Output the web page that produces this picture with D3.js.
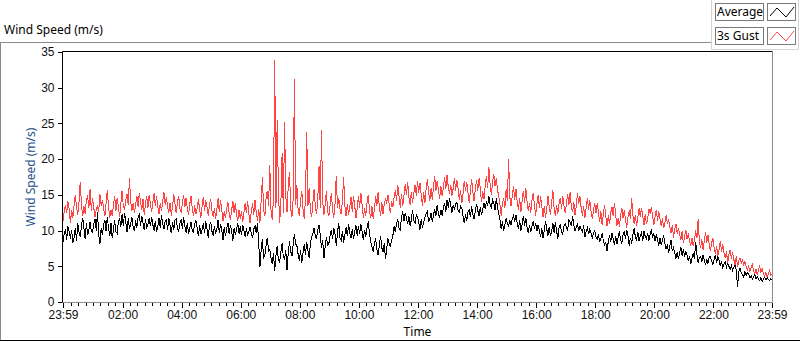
<!DOCTYPE html>
<html>
<head>
<meta charset="utf-8">
<script src="https://cdn.jsdelivr.net/npm/d3@7"></script>
<style>
  body { margin: 0; background: #fff; }
  svg { display: block; font-family: "Noto Sans", "Open Sans", sans-serif; }
</style>
</head>
<body>
<div id="chart"></div>
<script>
// series names and colours
var seriesNames = ["Average", "3s Gust"];
var seriesColors = ["#000000", "#ff4444"];

// one sample every 150 s, starting 23:59 the day before
var startTime = "2020-01-01 23:59";
var stepSeconds = 150;

// Average wind speed (m/s) (one row per hour)
var average = [
  8.4, 9.6, 10.2, 8.7, 10.6, 9.9, 8.9, 10.1, 8.3, 9.0, 10.4, 8.6, 11.0, 9.8, 9.1, 10.7, 11.8, 10.3, 8.8, 11.1, 9.4, 10.0, 11.2, 9.9,
  9.7, 10.9, 11.6, 10.0, 12.6, 9.5, 8.1, 10.4, 9.4, 10.8, 11.5, 9.9, 11.9, 10.3, 9.2, 11.0, 8.9, 10.2, 11.4, 9.8, 9.6, 11.2, 11.7, 10.5,
  12.3, 10.6, 12.5, 11.2, 9.8, 11.7, 10.2, 11.0, 11.9, 10.5, 9.9, 11.4, 10.4, 11.8, 12.2, 10.7, 12.0, 11.1, 10.1, 11.6, 10.3, 10.9, 11.8, 10.6,
  11.9, 10.8, 10.0, 11.3, 9.8, 10.6, 11.7, 10.4, 12.1, 11.0, 10.2, 11.4, 11.5, 10.1, 11.8, 10.7, 9.6, 11.2, 10.1, 11.5, 11.6, 10.3, 9.9, 11.0,
  11.6, 10.2, 11.9, 10.6, 9.7, 11.1, 9.5, 10.4, 11.2, 10.0, 9.8, 11.0, 11.4, 10.3, 9.2, 10.8, 9.5, 10.1, 11.0, 9.6, 11.3, 10.2, 9.0, 10.7,
  11.2, 9.9, 9.3, 10.6, 9.6, 10.2, 11.5, 9.7, 10.9, 10.0, 8.7, 10.5, 9.2, 10.3, 11.1, 9.5, 10.8, 9.9, 8.6, 10.4, 9.4, 10.1, 11.0, 9.6,
  10.6, 9.4, 10.8, 10.0, 9.1, 10.3, 9.3, 9.9, 10.5, 9.5, 9.0, 10.2, 10.7, 9.6, 11.1, 8.2, 4.9, 7.4, 8.8, 6.1, 6.6, 8.0, 9.0, 7.1,
  7.4, 6.2, 5.3, 6.8, 4.4, 6.5, 7.8, 5.9, 5.6, 7.0, 8.2, 6.3, 6.0, 7.2, 4.5, 6.9, 8.5, 7.1, 6.4, 8.0, 9.5, 8.1, 7.9, 6.7,
  5.8, 7.3, 5.5, 6.9, 8.1, 6.6, 8.4, 7.2, 6.2, 8.3, 9.0, 9.6, 10.4, 9.2, 8.9, 10.1, 10.8, 9.4, 7.5, 8.6, 6.1, 7.8, 9.1, 8.0,
  8.2, 9.3, 10.1, 8.8, 10.4, 9.5, 7.9, 9.7, 11.1, 9.0, 8.6, 10.0, 8.3, 9.4, 10.5, 9.2, 10.9, 9.6, 8.9, 10.2, 8.8, 9.8, 10.7, 9.3,
  10.6, 9.5, 10.9, 9.8, 8.7, 10.1, 9.1, 10.4, 11.3, 9.6, 8.4, 7.7, 7.0, 8.2, 8.9, 7.3, 6.6, 8.0, 9.2, 7.6, 7.0, 8.3, 6.0, 7.5,
  8.9, 8.1, 7.8, 8.7, 9.3, 10.6, 9.8, 11.0, 11.6, 10.4, 10.0, 11.9, 12.7, 11.3, 12.5, 11.8, 10.9, 12.0, 10.6, 11.5, 12.9, 11.4, 11.0, 12.2,
  12.0, 11.1, 10.1, 11.6, 10.4, 11.2, 11.8, 12.4, 12.7, 11.3, 11.6, 12.5, 11.2, 12.2, 13.0, 12.1, 13.6, 12.4, 11.8, 12.9, 12.1, 13.2, 13.8, 12.6,
  14.3, 13.2, 14.6, 13.5, 12.5, 13.6, 12.9, 13.8, 13.9, 12.8, 12.6, 13.4, 13.2, 12.0, 11.0, 12.3, 11.3, 12.6, 12.9, 11.9, 13.4, 12.2, 11.6, 12.7,
  13.7, 12.8, 12.0, 13.3, 12.2, 13.0, 13.9, 13.1, 14.1, 13.4, 14.8, 13.6, 13.2, 14.3, 13.9, 12.9, 14.5, 13.3, 12.4, 11.5, 10.2, 11.3, 9.9, 10.9,
  11.7, 11.0, 10.6, 11.5, 10.8, 11.6, 12.1, 11.2, 12.2, 11.0, 10.3, 11.4, 10.0, 10.9, 12.0, 10.7, 11.8, 10.5, 9.7, 10.8, 9.8, 10.6, 11.3, 10.2,
  11.1, 9.9, 10.8, 10.0, 9.1, 10.3, 8.9, 10.1, 11.3, 10.2, 9.3, 10.5, 9.2, 9.9, 11.0, 9.7, 11.2, 10.0, 8.8, 10.4, 10.9, 9.8, 9.5, 10.6,
  11.0, 10.4, 10.1, 11.5, 11.2, 10.6, 12.1, 10.8, 9.9, 10.5, 11.0, 9.9, 10.6, 10.1, 9.8, 10.7, 9.1, 9.9, 10.4, 9.5, 10.2, 9.6, 8.9, 9.7,
  10.0, 9.1, 8.8, 9.5, 8.4, 8.9, 9.6, 8.6, 8.0, 8.3, 7.1, 8.5, 9.3, 8.4, 9.6, 8.9, 8.0, 9.2, 8.1, 9.0, 9.9, 8.7, 8.2, 9.4,
  9.9, 8.9, 10.1, 9.2, 7.9, 9.0, 8.2, 9.4, 10.3, 9.1, 8.7, 9.8, 8.5, 9.3, 9.7, 8.6, 9.9, 9.2, 8.9, 9.6, 8.6, 9.5, 10.2, 9.0,
  9.6, 8.5, 9.5, 8.7, 7.9, 9.0, 8.0, 8.6, 9.3, 8.2, 7.4, 8.1, 6.9, 7.8, 8.7, 7.1, 7.6, 6.8, 6.1, 7.0, 6.0, 6.9, 7.7, 6.4,
  7.4, 6.3, 7.1, 6.5, 5.7, 6.4, 5.3, 6.1, 6.9, 6.0, 8.4, 6.7, 5.5, 6.2, 6.4, 5.6, 6.6, 5.9, 5.2, 6.0, 5.4, 6.3, 6.4, 5.7,
  5.2, 6.0, 6.6, 5.5, 6.4, 5.8, 5.0, 5.7, 4.8, 5.3, 5.6, 4.9, 5.5, 5.0, 4.6, 5.1, 4.4, 4.9, 5.2, 4.5, 2.1, 4.2, 4.8, 4.1,
  3.8, 3.5, 4.3, 3.7, 4.1, 3.9, 3.4, 3.7, 3.2, 3.5, 3.8, 3.3, 3.6, 3.2, 3.0, 3.4, 2.9, 3.2, 3.5, 3.1, 3.4, 3.2, 3.0, 3.3,
  3.1
];

// 3 second gust (m/s) (one row per hour)
var gust = [
  11.3, 12.7, 13.6, 12.4, 14.1, 13.0, 11.0, 12.9, 11.8, 13.5, 15.0, 13.2, 12.2, 14.0, 16.8, 13.7, 12.0, 13.4, 12.3, 14.3, 14.9, 13.1, 15.8, 12.8,
  14.6, 13.2, 11.9, 13.0, 13.4, 12.6, 15.1, 13.5, 14.3, 13.1, 12.0, 13.8, 15.7, 13.3, 11.8, 12.9, 12.1, 13.6, 14.8, 12.7, 14.6, 13.4, 11.9, 13.7,
  15.6, 13.4, 13.0, 14.2, 15.1, 13.6, 17.3, 14.0, 12.8, 13.9, 12.4, 13.5, 14.9, 13.3, 15.3, 14.1, 12.9, 14.4, 12.2, 13.8, 14.8, 13.2, 15.0, 13.7,
  12.6, 13.9, 15.2, 13.5, 14.9, 13.3, 12.3, 13.8, 12.7, 14.1, 15.4, 13.6, 14.7, 13.2, 12.5, 13.9, 12.1, 13.4, 15.1, 13.7, 12.4, 14.0, 14.8, 13.1,
  12.5, 13.8, 15.0, 13.3, 14.6, 13.0, 12.2, 13.7, 14.9, 13.1, 12.0, 13.5, 12.3, 13.2, 14.4, 12.9, 11.8, 13.4, 14.7, 12.8, 14.2, 13.3, 12.1, 13.6,
  14.4, 12.8, 11.9, 13.2, 11.6, 13.0, 14.5, 12.6, 14.3, 12.9, 11.4, 12.7, 11.7, 13.1, 14.0, 12.4, 11.5, 12.8, 14.2, 12.5, 13.9, 12.2, 11.3, 12.9,
  11.6, 12.7, 11.2, 12.5, 13.9, 12.4, 14.1, 12.3, 11.0, 12.8, 13.8, 12.2, 14.3, 12.6, 11.4, 13.0, 11.1, 14.2, 17.5, 12.9, 12.0, 14.6, 15.6, 13.4,
  19.2, 12.8, 11.5, 14.6, 33.9, 13.2, 25.5, 15.9, 11.0, 13.7, 20.8, 12.4, 25.2, 14.8, 12.6, 16.3, 18.2, 13.1, 11.9, 14.5, 31.2, 13.6, 16.4, 12.9,
  12.1, 14.2, 15.6, 13.0, 11.6, 14.7, 23.8, 13.5, 16.0, 12.8, 11.9, 13.9, 15.8, 13.3, 12.3, 14.4, 19.0, 13.1, 24.1, 14.0, 12.2, 13.6, 15.6, 12.7,
  12.0, 13.6, 15.2, 12.9, 11.8, 13.8, 17.7, 13.2, 14.6, 13.0, 12.3, 14.1, 17.5, 13.4, 12.0, 13.7, 12.2, 13.3, 14.7, 12.6, 14.8, 13.5, 11.7, 13.1,
  14.9, 13.2, 15.3, 13.6, 11.8, 13.1, 12.1, 13.9, 15.0, 12.8, 11.7, 13.4, 11.6, 13.0, 14.8, 13.5, 15.4, 13.3, 12.0, 14.0, 12.3, 13.7, 14.5, 13.8,
  15.0, 13.6, 12.4, 14.1, 13.3, 14.6, 15.6, 14.2, 16.4, 14.8, 13.2, 15.1, 13.4, 14.9, 16.5, 15.0, 16.8, 14.7, 13.6, 15.4, 13.9, 15.2, 16.4, 14.9,
  16.9, 15.3, 16.7, 15.0, 13.5, 15.4, 13.8, 15.8, 17.2, 15.5, 14.1, 15.9, 14.3, 16.1, 17.6, 15.6, 17.0, 15.7, 14.4, 16.2, 14.8, 16.0, 17.5, 15.8,
  17.8, 16.1, 15.2, 16.4, 14.9, 15.9, 17.4, 15.6, 17.1, 15.8, 14.3, 15.7, 13.8, 15.2, 17.0, 15.5, 16.8, 15.3, 13.9, 15.6, 17.2, 15.4, 14.1, 15.9,
  17.0, 15.6, 17.3, 15.9, 14.0, 15.5, 14.4, 16.3, 17.6, 16.0, 18.9, 16.4, 15.0, 16.8, 17.9, 16.2, 17.4, 15.7, 14.8, 13.6, 12.1, 13.9, 14.5, 13.2,
  15.8, 14.1, 20.0, 14.7, 13.4, 14.9, 16.2, 14.3, 15.8, 14.0, 12.9, 14.5, 12.6, 14.2, 15.6, 13.8, 15.9, 14.1, 12.8, 13.9, 12.5, 14.3, 15.3, 13.6,
  12.1, 13.7, 15.0, 13.2, 14.8, 13.4, 11.9, 13.5, 11.8, 13.0, 14.9, 13.3, 12.2, 13.9, 15.7, 13.1, 12.0, 13.6, 12.3, 13.8, 14.6, 13.0, 14.9, 13.5,
  12.4, 13.8, 15.1, 13.6, 15.4, 13.2, 12.6, 14.0, 12.2, 13.5, 15.2, 13.7, 14.8, 13.1, 12.1, 13.4, 11.8, 13.2, 14.6, 12.9, 14.3, 12.7, 11.7, 12.8,
  13.9, 12.4, 13.8, 12.6, 11.2, 12.7, 10.8, 12.3, 13.6, 11.9, 10.6, 12.1, 10.9, 12.5, 13.3, 12.0, 13.9, 12.2, 10.7, 11.8, 10.5, 12.0, 13.2, 11.7,
  12.9, 11.5, 10.4, 11.9, 12.8, 11.6, 14.6, 12.1, 10.9, 12.2, 10.6, 11.8, 13.1, 11.9, 13.2, 12.0, 10.8, 12.3, 10.9, 11.7, 13.0, 12.4, 13.3, 12.0,
  10.8, 12.0, 12.9, 11.4, 12.7, 11.6, 10.6, 11.8, 10.3, 11.1, 12.2, 10.9, 11.6, 10.4, 9.7, 10.8, 9.0, 10.2, 10.9, 9.6, 10.4, 9.5, 8.7, 9.9,
  8.2, 9.2, 10.1, 8.8, 9.6, 8.6, 7.9, 9.0, 7.8, 8.7, 10.0, 8.9, 11.6, 8.4, 7.6, 8.8, 7.3, 8.5, 9.8, 8.3, 9.4, 8.0, 7.2, 8.3,
  8.9, 7.6, 6.8, 7.8, 6.5, 7.3, 8.6, 7.0, 8.1, 6.9, 6.2, 7.1, 5.5, 6.6, 7.3, 6.1, 7.0, 5.9, 5.2, 6.4, 4.9, 5.8, 6.2, 5.4,
  6.0, 5.1, 5.7, 4.9, 4.5, 5.0, 4.3, 4.8, 5.3, 4.4, 4.0, 4.6, 3.8, 4.5, 5.0, 4.2, 4.7, 4.0, 3.6, 4.1, 3.5, 3.9, 4.4, 3.8,
  3.9
];

// axis ticks
var yTicks = [0, 5, 10, 15, 20, 25, 30, 35];
var xTickTimes = ["2020-01-01 23:59", "2020-01-02 02:00", "2020-01-02 04:00", "2020-01-02 06:00",
  "2020-01-02 08:00", "2020-01-02 10:00", "2020-01-02 12:00", "2020-01-02 14:00",
  "2020-01-02 16:00", "2020-01-02 18:00", "2020-01-02 20:00", "2020-01-02 22:00", "2020-01-02 23:59"];
var xTickLabels = ["23:59", "02:00", "04:00", "06:00", "08:00", "10:00", "12:00",
  "14:00", "16:00", "18:00", "20:00", "22:00", "23:59"];

var width = 800, height = 342;
var plot = { left: 63, right: 772, top: 52, bottom: 302 };

var parse = d3.timeParse("%Y-%m-%d %H:%M");
var t0 = parse(startTime);
var times = average.map(function(d, i) { return d3.timeSecond.offset(t0, i * stepSeconds); });
var majorTimes = xTickTimes.map(parse);

var x = d3.scaleTime()
    .domain([majorTimes[0], majorTimes[majorTimes.length - 1]])
    .range([plot.left, plot.right]);
var y = d3.scaleLinear().domain([0, 35]).range([plot.bottom, plot.top]);

var svg = d3.select("#chart").append("svg")
    .attr("width", width)
    .attr("height", height);

// outer panel frame
svg.append("line").attr("x1", 0).attr("x2", 711).attr("y1", 42.5).attr("y2", 42.5)
    .attr("stroke", "#8a8a8a");
svg.append("line").attr("x1", 0.5).attr("x2", 0.5).attr("y1", 42).attr("y2", 341)
    .attr("stroke", "#8a8a8a");
svg.append("line").attr("x1", 0).attr("x2", 800).attr("y1", 340.5).attr("y2", 340.5)
    .attr("stroke", "#000");
// legend surround
svg.append("path").attr("d", "M711.5,0V49.5H798.5V0")
    .attr("fill", "none").attr("stroke", "#d4d4d4");

// chart title
svg.append("text").attr("x", 4).attr("y", 34)
    .style("font-size", "12px").attr("fill", "#000")
    .text("Wind Speed (m/s)");

// clip for data
svg.append("clipPath").attr("id", "clip").append("rect")
    .attr("x", plot.left).attr("y", plot.top)
    .attr("width", plot.right - plot.left).attr("height", plot.bottom - plot.top);

// y axis
var yAxis = svg.append("g")
    .attr("transform", "translate(" + (plot.left - 0.5) + ",0)")
    .call(d3.axisLeft(y).tickValues(yTicks).tickSize(5).tickPadding(3));
yAxis.select(".domain").remove();
yAxis.selectAll("text").style("font-size", "12px").attr("fill", "#111");

// x axis: minor ticks every 15 minutes, major ticks labelled
var minorTimes = d3.timeMinute.every(15).range(majorTimes[0], majorTimes[majorTimes.length - 1])
    .filter(function(d) { return d.getMinutes() !== 0 || d.getHours() % 2 !== 0; });
var xMinor = svg.append("g")
    .attr("transform", "translate(0," + (plot.bottom + 0.5) + ")")
    .call(d3.axisBottom(x).tickValues(minorTimes).tickSize(3).tickFormat(""));
xMinor.select(".domain").remove();

var xAxis = svg.append("g")
    .attr("transform", "translate(0," + (plot.bottom + 0.5) + ")")
    .call(d3.axisBottom(x).tickValues(majorTimes).tickSize(5).tickPadding(3)
        .tickFormat(function(d, i) { return xTickLabels[i]; }));
xAxis.select(".domain").remove();
xAxis.selectAll("text").style("font-size", "12px").attr("fill", "#111");
svg.selectAll(".tick line").attr("shape-rendering", "crispEdges");

// axis names
svg.append("text")
    .attr("transform", "translate(35," + ((plot.top + plot.bottom) / 2) + ") rotate(-90)")
    .attr("text-anchor", "middle")
    .style("font-size", "12px").attr("fill", "#24508a")
    .text("Wind Speed (m/s)");
svg.append("text")
    .attr("x", (plot.left + plot.right) / 2).attr("y", 336)
    .attr("text-anchor", "middle")
    .style("font-size", "12px").attr("fill", "#000")
    .text("Time");

// data lines
var series = [average, gust];
var line = d3.line()
    .x(function(d, i) { return x(times[i]); })
    .y(function(d) { return y(d); });

svg.append("g").attr("clip-path", "url(#clip)")
    .selectAll("path")
    .data(series)
    .enter()
    .append("path")
    .attr("d", function(d) { return line(d); })
    .attr("fill", "none")
    .attr("stroke", function(d, i) { return seriesColors[i]; })
    .attr("stroke-width", 1)
    .attr("shape-rendering", "crispEdges");

// plot frame
svg.append("path")
    .attr("d", "M" + (plot.left - 0.5) + "," + (plot.bottom + 0.5) + "V" + (plot.top - 0.5) + "H" + (plot.right + 0.5))
    .attr("fill", "none").attr("stroke", "#000");
svg.append("path")
    .attr("d", "M" + (plot.left - 0.5) + "," + (plot.bottom + 0.5) + "H" + (plot.right + 0.5) + "V" + (plot.top - 0.5))
    .attr("fill", "none").attr("stroke", "#8c8c8c");

// legend
var legend = svg.append("g").selectAll("g")
    .data(seriesNames)
    .enter()
    .append("g")
    .attr("transform", function(d, i) { return "translate(0," + (i * 24) + ")"; });

legend.append("rect")
    .attr("x", 715.5).attr("y", 3.5).attr("width", 48).attr("height", 17)
    .attr("fill", "#fff").attr("stroke", "#7a7a7a");
legend.append("text")
    .attr("x", 717).attr("y", 16)
    .style("font-size", "12px").attr("fill", "#000")
    .text(function(d) { return d; });
legend.append("rect")
    .attr("x", 767.5).attr("y", 3.5).attr("width", 28).attr("height", 17)
    .attr("fill", "#fff").attr("stroke", "#7a7a7a");
legend.append("path")
    .attr("d", "M770,16L777,8L786,17L794,7")
    .attr("fill", "none")
    .attr("stroke", function(d, i) { return seriesColors[i]; })
    .attr("stroke-width", 1);
</script>
</body>
</html>
